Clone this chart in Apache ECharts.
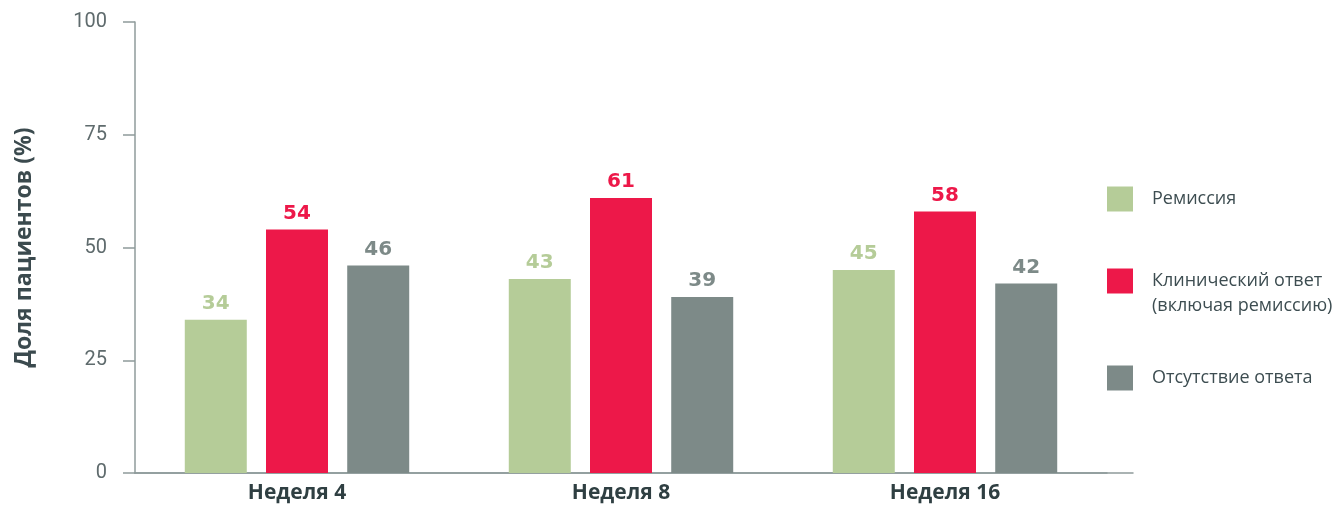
<!DOCTYPE html>
<html><head><meta charset="utf-8">
<script src="https://cdn.jsdelivr.net/npm/echarts@6/dist/echarts.min.js"></script>
<style>html,body{margin:0;padding:0;background:#fff}#c{width:1338px;height:506px}</style>
</head><body><div id="c"></div>
<script>
const categories = ['Неделя 4', 'Неделя 8', 'Неделя 16'];
const remission = [34, 43, 45];
const clinical = [54, 61, 58];
const noResponse = [46, 39, 42];
const yTicks = [0, 25, 50, 75, 100];
const seriesNames = ['Ремиссия', 'Клинический ответ\n(включая ремиссию)', 'Отсутствие ответа'];
const colors = ['#b5cc98', '#ed1849', '#7d8a88'];

const chart = echarts.init(document.getElementById('c'), null, {renderer: 'canvas'});
const axisColor = '#8f9b9b';
function mkSeries(name, data, color) {
  return {
    name, type: 'bar', data, barWidth: 62, barGap: '31%',
    itemStyle: {color},
    label: {show: true, position: 'top', distance: 6, color,
      fontFamily: 'DejaVu Sans', fontWeight: 'bold', fontSize: 20}
  };
}
const legendText = {fontFamily: 'Open Sans', fontSize: 18, color: '#3d4d51', lineHeight: 25,
  rich: {a: {fontFamily: 'Open Sans', fontSize: 18, color: '#3d4d51', lineHeight: 25, padding: [0, 0, 0, 14]}}};
function fmt(name) {
  const lines = name.split('\n').map(s => '{a|' + s + '}');
  if (lines.length > 1) lines.unshift('{a| }');
  return lines.join('\n');
}
const legendBase = {orient: 'vertical', left: 1107, itemWidth: 26, itemHeight: 25, padding: 0,
  icon: 'rect', selectedMode: false, formatter: fmt, textStyle: legendText};
chart.setOption({
  animation: false,
  grid: [
    {left: 135, right: 231, top: 22, bottom: 33, outerBoundsMode: 'none'},
    {left: 135, right: 205, top: 22, bottom: 33, outerBoundsMode: 'none'}
  ],
  legend: [
    Object.assign({}, legendBase, {top: 186.5, data: [seriesNames[0]]}),
    Object.assign({}, legendBase, {top: 243.5, data: [seriesNames[1]]}),
    Object.assign({}, legendBase, {top: 365.5, data: [seriesNames[2]]})
  ],
  xAxis: [{
    type: 'category', data: categories, gridIndex: 0,
    axisLine: {lineStyle: {color: axisColor, width: 1.5}},
    axisTick: {show: false},
    axisLabel: {margin: 10, color: '#2f3f42', fontFamily: 'Open Sans', fontWeight: 'bold', fontSize: 21}
  }, {
    type: 'value', gridIndex: 1, min: 0, max: 1,
    axisLine: {show: true, lineStyle: {color: axisColor, width: 1.5}},
    axisTick: {show: false}, axisLabel: {show: false}, splitLine: {show: false}
  }],
  yAxis: [{
    type: 'value', gridIndex: 0, min: yTicks[0], max: yTicks[yTicks.length - 1], interval: 25,
    name: 'Доля пациентов (%)', nameLocation: 'middle', nameGap: 99, nameRotate: 90,
    nameTextStyle: {fontFamily: 'Open Sans', fontWeight: 'bold', fontSize: 23, color: '#3b4a4e'},
    axisLine: {show: true, lineStyle: {color: axisColor, width: 1.5}},
    axisTick: {show: true, length: 12, lineStyle: {color: axisColor, width: 1.5}},
    splitLine: {show: false},
    axisLabel: {margin: 28, color: '#5f6b6d', fontFamily: 'Roboto', fontWeight: 'normal', fontSize: 20}
  }, {
    type: 'value', gridIndex: 1, min: 0, max: 1, show: false
  }],
  series: [
    mkSeries(seriesNames[0], remission, colors[0]),
    mkSeries(seriesNames[1], clinical, colors[1]),
    mkSeries(seriesNames[2], noResponse, colors[2])
  ]
});
</script></body></html>
